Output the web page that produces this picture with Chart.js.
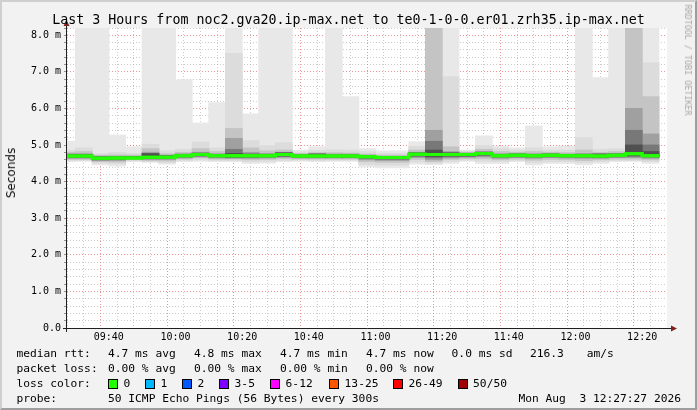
<!DOCTYPE html>
<html><head><meta charset="utf-8">
<script src="https://cdn.jsdelivr.net/npm/chart.js@4.4.1/dist/chart.umd.min.js"></script>
<style>
html,body{margin:0;padding:0;background:#f2f2f2;}
#wrap{position:relative;width:697px;height:410px;overflow:hidden;background:#f2f2f2;}
#c{position:absolute;left:0;top:0;background:#f2f2f2;}
#frame{position:absolute;left:0;top:0;width:697px;height:410px;box-sizing:border-box;border-top:2px solid #cfcfcf;border-left:2px solid #cfcfcf;border-right:2px solid #9e9e9e;border-bottom:2px solid #9e9e9e;pointer-events:none;}
.t{position:absolute;white-space:pre;font-family:"DejaVu Sans Mono",monospace;color:#000;line-height:1;font-size:11.25px;}
.sq{position:absolute;width:10px;height:10px;box-sizing:border-box;border:1px solid #000;}
#title{position:absolute;left:0;width:697px;top:12.5px;text-align:center;font-family:"DejaVu Sans Mono",monospace;font-size:13.3px;line-height:1;white-space:pre;color:#000;}
#ylab{position:absolute;left:11px;top:172.5px;transform:translate(-50%,-50%) rotate(-90deg);font-family:"DejaVu Sans",sans-serif;font-size:12px;font-weight:normal;white-space:nowrap;color:#111;}
#rrd{position:absolute;left:687.5px;top:59.5px;transform:translate(-50%,-50%) rotate(90deg);font-family:"DejaVu Sans Mono",monospace;font-size:8.4px;white-space:nowrap;color:#a8a8a8;}
</style></head>
<body>
<div id="wrap">
<canvas id="c" width="697" height="410"></canvas>
<div id="title">Last 3 Hours from noc2.gva20.ip-max.net to te0-1-0-0.er01.zrh35.ip-max.net</div>
<div id="ylab">Seconds</div>
<div id="rrd">RRDTOOL / TOBI OETIKER</div>
<div id="legend"></div>
<div id="frame"></div>
</div>
<script>
// ---- data ----
const windowEnd = '12:27:27';
const windowHours = 3;
const slotMinutes = 5;
const slotStart = ['09:25','09:30','09:35','09:40','09:45','09:50','09:55','10:00','10:05','10:10','10:15','10:20','10:25','10:30','10:35','10:40','10:45','10:50','10:55','11:00','11:05','11:10','11:15','11:20','11:25','11:30','11:35','11:40','11:45','11:50','11:55','12:00','12:05','12:10','12:15','12:20'];
const medianRtt = [4.70,4.70,4.64,4.65,4.65,4.67,4.67,4.71,4.74,4.71,4.71,4.71,4.71,4.74,4.70,4.70,4.70,4.70,4.68,4.66,4.66,4.75,4.74,4.74,4.74,4.77,4.71,4.72,4.71,4.72,4.71,4.71,4.70,4.72,4.76,4.71];
const pingMax = [5.10,9,9,5.27,4.95,9,9,6.78,5.60,6.16,9,5.85,9,9,4.86,4.95,9,6.32,4.90,4.84,4.84,5.09,9,9,4.86,5.25,4.96,4.92,5.52,4.95,4.96,9,6.84,9,9,9];
const pingMin = [4.55,4.56,4.46,4.43,4.55,4.53,4.48,4.55,4.56,4.55,4.55,4.50,4.51,4.55,4.56,4.55,4.56,4.56,4.41,4.38,4.38,4.48,4.47,4.50,4.56,4.50,4.50,4.55,4.46,4.50,4.50,4.46,4.50,4.55,4.56,4.50];
const smoke2Lo = [4.58,4.58,4.51,4.49,4.57,4.55,4.52,4.58,4.60,4.58,4.58,4.55,4.56,4.58,4.59,4.58,4.59,4.59,4.47,4.45,4.45,4.54,4.50,4.55,4.59,4.56,4.55,4.58,4.52,4.55,4.55,4.52,4.55,4.58,4.58,4.55];
const smoke2Hi = [4.86,4.92,4.76,4.80,4.77,5.02,4.84,4.88,5.08,4.92,7.50,5.12,4.98,5.06,4.81,4.85,4.87,4.86,4.82,4.77,4.77,4.96,9,6.87,4.83,4.98,4.90,4.86,4.92,4.86,4.86,5.20,4.88,4.90,9,7.24];
const smoke3Lo = [4.61,4.61,4.55,4.54,4.60,4.58,4.57,4.62,4.65,4.62,4.62,4.60,4.61,4.63,4.62,4.62,4.62,4.62,4.55,4.53,4.53,4.61,4.55,4.61,4.63,4.63,4.60,4.62,4.59,4.61,4.60,4.58,4.60,4.62,4.62,4.60];
const smoke3Hi = [4.80,4.82,4.72,4.73,4.72,4.90,4.76,4.80,4.90,4.82,5.45,4.92,4.84,4.86,4.77,4.79,4.79,4.78,4.75,4.72,4.72,4.86,9,4.95,4.80,4.88,4.82,4.80,4.82,4.80,4.79,4.86,4.80,4.82,9,6.32];
const smoke4Lo = [4.64,4.64,4.58,4.58,4.62,4.61,4.61,4.65,4.68,4.65,4.64,4.64,4.65,4.67,4.65,4.65,4.65,4.65,4.60,4.58,4.58,4.66,4.60,4.65,4.67,4.68,4.64,4.66,4.64,4.66,4.65,4.64,4.64,4.66,4.66,4.64];
const smoke4Hi = [4.76,4.76,4.69,4.69,4.69,4.80,4.72,4.76,4.80,4.76,5.18,4.80,4.77,4.80,4.74,4.76,4.75,4.75,4.72,4.69,4.69,4.80,5.40,4.82,4.78,4.82,4.76,4.76,4.76,4.76,4.75,4.77,4.76,4.77,6.00,5.30];
const smoke5Lo = [4.66,4.66,4.60,4.61,4.63,4.63,4.63,4.67,4.70,4.67,4.66,4.66,4.67,4.69,4.67,4.67,4.67,4.67,4.63,4.61,4.61,4.69,4.65,4.68,4.69,4.71,4.67,4.68,4.67,4.68,4.67,4.67,4.66,4.68,4.69,4.67];
const smoke5Hi = [4.74,4.74,4.67,4.68,4.68,4.77,4.70,4.74,4.78,4.74,4.88,4.76,4.74,4.79,4.73,4.75,4.73,4.73,4.71,4.68,4.68,4.78,5.10,4.79,4.77,4.80,4.74,4.75,4.74,4.75,4.74,4.74,4.75,4.75,5.40,5.00];
const smoke6Lo = [4.68,4.68,4.62,4.63,4.64,4.65,4.65,4.69,4.72,4.69,4.68,4.69,4.69,4.71,4.68,4.68,4.68,4.68,4.66,4.64,4.64,4.72,4.69,4.71,4.71,4.74,4.69,4.70,4.69,4.70,4.69,4.69,4.68,4.70,4.72,4.69];
const smoke6Hi = [4.73,4.73,4.67,4.67,4.67,4.76,4.70,4.74,4.77,4.74,4.77,4.74,4.74,4.78,4.72,4.75,4.72,4.72,4.70,4.68,4.68,4.78,4.86,4.78,4.77,4.80,4.74,4.75,4.74,4.75,4.74,4.74,4.75,4.75,5.00,4.82];
const xTickLabels = ['09:40','10:00','10:20','10:40','11:00','11:20','11:40','12:00','12:20'];
const yTickLabels = ['0.0','1.0 m','2.0 m','3.0 m','4.0 m','5.0 m','6.0 m','7.0 m','8.0 m'];
const yMax = 8.2;

// ---- legend text ----
const legendRows = [
  [[16.4,'median rtt:'],[108,'4.7 ms avg'],[194,'4.8 ms max'],[280,'4.7 ms min'],[366,'4.7 ms now'],[451.6,'0.0 ms sd'],[530,'216.3'],[586.7,'am/s']],
  [[16.4,'packet loss:'],[108,'0.00 % avg'],[194,'0.00 % max'],[280,'0.00 % min'],[366,'0.00 % now']],
  [[16.4,'loss color:']],
  [[16.4,'probe:'],[108,'50 ICMP Echo Pings (56 Bytes) every 300s']]
];
const lossLabels = ['0','1','2','3-5','6-12','13-25','26-49','50/50'];
const lossColors = ['#22ff00','#00b8ff','#0059ff','#7e00ff','#ff00ff','#ff5500','#ff0000','#a00000'];
const lossSquareX = [108,145,182,219,270,329,393,457.5];
const stampText = 'Mon Aug  3 12:27:27 2026';

const rowBase = [357.5,372.5,388,403];
const lg = document.getElementById('legend');
const F = 11.25;
legendRows.forEach((row,r)=>{
  row.forEach(([x,s])=>{
    const d=document.createElement('div'); d.className='t'; d.textContent=s;
    d.style.left=x+'px'; d.style.top=(rowBase[r]-0.846*F)+'px'; lg.appendChild(d);
  });
});
lossLabels.forEach((s,i)=>{
  const q=document.createElement('div'); q.className='sq'; q.style.background=lossColors[i];
  q.style.left=lossSquareX[i]+'px'; q.style.top='379px'; lg.appendChild(q);
  const d=document.createElement('div'); d.className='t'; d.textContent=s;
  d.style.left=(lossSquareX[i]+15.6)+'px'; d.style.top=(rowBase[2]-0.846*F)+'px'; lg.appendChild(d);
});
{
  const d=document.createElement('div'); d.className='t'; d.textContent=stampText;
  d.style.right=(697-681)+'px'; d.style.top=(rowBase[3]-0.846*F)+'px'; lg.appendChild(d);
}

// ---- chart ----
const toMin = s => { const p = s.split(':').map(Number); return p[0]*60 + p[1] + (p[2]||0)/60; };
const xMax = toMin(windowEnd);
const xMin = xMax - windowHours*60;
const centers = slotStart.map(s => toMin(s) + slotMinutes/2);
const band = (lo,hi) => centers.map((x,i)=>({x, y:[lo[i], hi[i]]}));
const bandDefs = [
  [pingMin, pingMax, '#e8e8e8'],
  [smoke2Lo, smoke2Hi, '#dcdcdc'],
  [smoke3Lo, smoke3Hi, '#c4c4c4'],
  [smoke4Lo, smoke4Hi, '#a0a0a0'],
  [smoke5Lo, smoke5Hi, '#787878'],
  [smoke6Lo, smoke6Hi, '#505050']
];
const datasets = bandDefs.map(([lo,hi,c],k)=>({
  type:'bar', data: band(lo,hi), backgroundColor:c, borderWidth:0, borderSkipped:false,
  grouped:false, barPercentage:1, categoryPercentage:1, inflateAmount:0.5, order: 10-k
}));
const medianPts = slotStart.map((s,i)=>({x: toMin(s), y: medianRtt[i]}));
medianPts.push({x: toMin(slotStart[slotStart.length-1]) + slotMinutes, y: medianRtt[medianRtt.length-1]});
datasets.push({type:'line', data: medianPts, borderColor:'#22ff00', borderWidth:3, pointRadius:0,
  stepped:true, fill:false, order:0, clip:0, borderCapStyle:'butt', borderJoinStyle:'miter'});
const LINE_IDX = datasets.length-1;

const majorGrid = 'rgba(222,79,79,0.6)';
const minorGrid = 'rgba(143,143,143,0.45)';
const isInt = v => Math.abs(v - Math.round(v)) < 1e-6;

const plotBg = { id:'plotBg', beforeDraw(chart){ const {ctx, chartArea:a} = chart; ctx.save(); ctx.fillStyle='#ffffff'; ctx.fillRect(a.left,a.top,a.right-a.left,a.bottom-a.top); ctx.restore(); } };
const overlay = { id:'overlay', afterDraw(chart){
  const {ctx, chartArea:a} = chart;
  const meta = chart.getDatasetMeta(LINE_IDX);
  ctx.save(); ctx.beginPath(); ctx.rect(a.left,a.top,a.right-a.left,a.bottom-a.top); ctx.clip();
  meta.dataset.draw(ctx, a); ctx.restore();
  ctx.save();
  ctx.strokeStyle='#1f1f1f'; ctx.lineWidth=1;
  const ax = a.left-0.5, ay = a.bottom+0.5;
  ctx.beginPath(); ctx.moveTo(ax, a.bottom+4); ctx.lineTo(ax, a.top-3); ctx.stroke();
  ctx.beginPath(); ctx.moveTo(a.left-4, ay); ctx.lineTo(a.right+5, ay); ctx.stroke();
  ctx.fillStyle='#801f1f';
  ctx.beginPath(); ctx.moveTo(ax, a.top-8); ctx.lineTo(ax-3, a.top-2); ctx.lineTo(ax+3, a.top-2); ctx.closePath(); ctx.fill();
  ctx.beginPath(); ctx.moveTo(a.right+10, ay); ctx.lineTo(a.right+4, ay-3); ctx.lineTo(a.right+4, ay+3); ctx.closePath(); ctx.fill();
  ctx.restore();
}};

new Chart(document.getElementById('c'), {
  type:'bar',
  data:{ datasets },
  options:{
    responsive:false, devicePixelRatio:1, animation:false, events:[],
    layout:{ padding:{ top:28, right:30, bottom:0, left:0 } },
    plugins:{ legend:{display:false}, tooltip:{enabled:false}, title:{display:false} },
    scales:{
      x:{ type:'linear', min:xMin, max:xMax, z:1, offset:false,
        afterBuildTicks(scale){ const t=[]; for(let v=Math.ceil(xMin/slotMinutes)*slotMinutes; v<=xMax; v+=slotMinutes) t.push({value:v}); scale.ticks=t; },
        afterFit(scale){ scale.height = 82; },
        grid:{ color: c => (c.tick && c.tick.value % 20 === 0) ? majorGrid : minorGrid, drawTicks:false, lineWidth:1 },
        border:{ display:false, dash:[1,2] },
        ticks:{ autoSkip:false, maxRotation:0, minRotation:0, padding:3, color:'#000',
          font:{ family:'"DejaVu Sans Mono", monospace', size:10 },
          callback: v => { const l = xTickLabels.find(s => Math.abs(toMin(s)-v) < 1e-6); return l || ''; } }
      },
      y:{ type:'linear', min:0, max:yMax, z:1,
        afterFit(scale){ scale.width = 67; },
        grid:{ color: c => (c.tick && isInt(c.tick.value)) ? majorGrid : minorGrid, drawTicks:true, tickLength:3, tickColor:'rgba(110,110,110,0.7)', lineWidth:1 },
        border:{ display:false, dash:[1,2] },
        ticks:{ stepSize:0.2, autoSkip:false, padding:3, color:'#000',
          font:{ family:'"DejaVu Sans Mono", monospace', size:10 },
          callback: v => isInt(v) ? (yTickLabels[Math.round(v)] || '') : '' }
      }
    }
  },
  plugins:[plotBg, overlay]
});
</script>
</body></html>
